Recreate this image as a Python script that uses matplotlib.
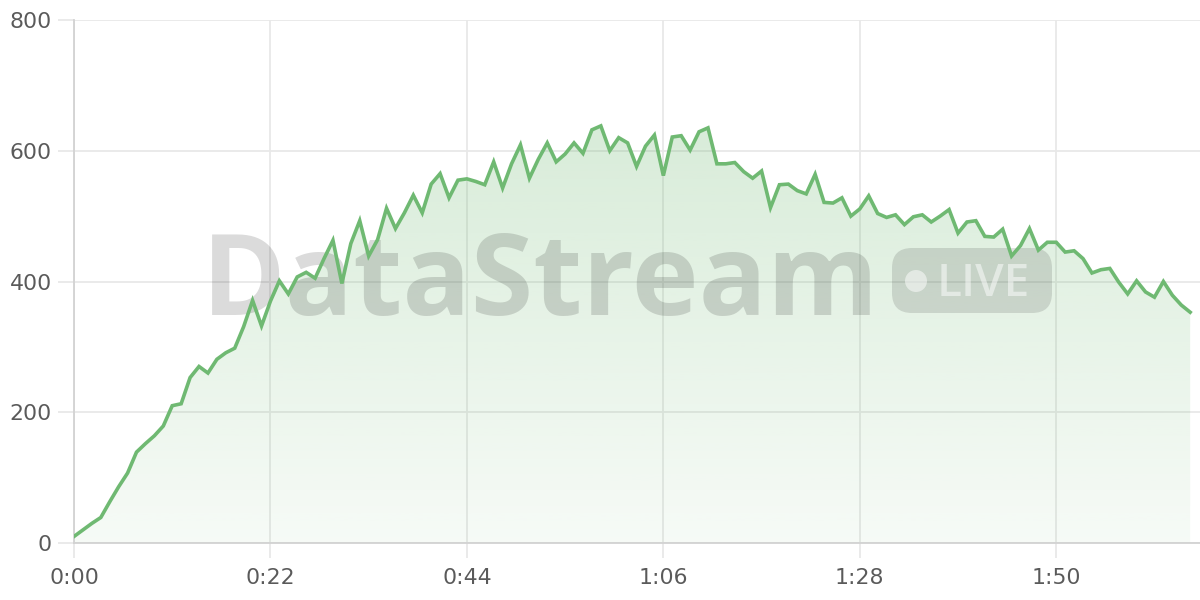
import numpy as np
import matplotlib
matplotlib.use('Agg')
from matplotlib import pyplot as plt
from matplotlib.patches import Polygon, FancyBboxPatch, Circle
from matplotlib.transforms import IdentityTransform
from matplotlib.ticker import FuncFormatter

# one reading per second, 0:00 .. 2:05
seconds = np.arange(126)
values = [10, 20, 30, 39, 63, 86, 107, 139, 152, 164,
          179, 210, 213, 253, 270, 260, 281, 291, 298, 331,
          371, 332, 370, 401, 381, 407, 414, 405, 435, 463,
          397, 458, 493, 439, 464, 512, 481, 505, 532, 505,
          549, 565, 528, 555, 557, 553, 548, 583, 543, 580,
          609, 558, 587, 612, 583, 595, 612, 596, 632, 638,
          600, 620, 612, 576, 607, 624, 562, 621, 623, 601,
          629, 635, 580, 580, 582, 568, 558, 569, 513, 548,
          549, 539, 534, 564, 521, 520, 528, 500, 511, 531,
          504, 498, 502, 487, 499, 502, 491, 500, 510, 474,
          491, 493, 469, 468, 480, 439, 455, 481, 448, 460,
          460, 445, 447, 435, 413, 418, 420, 399, 381, 401,
          384, 376, 400, 379, 364, 353]
x_ticks = [0, 22, 44, 66, 88, 110]
y_ticks = [0, 200, 400, 600, 800]

green = '#6fb972'
grid_col = '#e8e8e8'
axis_col = '#d2d2d2'
label_col = '#5a5a5a'

fig = plt.figure(figsize=(12, 6), dpi=100)
ax = fig.add_axes([74 / 1200, 57 / 600, 1126 / 1200, 523 / 600])

vals = np.array(values, dtype=float)

# gradient fill under the line
verts = np.column_stack([np.r_[seconds[0], seconds, seconds[-1]], np.r_[0, vals, 0]])
poly = Polygon(verts, closed=True, facecolor='none', edgecolor='none')
ax.add_patch(poly)
grad = np.zeros((256, 1, 4))
grad[:, :, :3] = matplotlib.colors.to_rgb(green)
grad[:, 0, 3] = np.linspace(0.27, 0.06, 256)
im = ax.imshow(grad, aspect='auto', origin='upper', zorder=1,
               extent=[seconds[0], seconds[-1], 0, vals.max()])
im.set_clip_path(poly)

ax.plot(seconds, vals, color=green, lw=2.6, zorder=4, solid_joinstyle='miter')

# watermark
ident = IdentityTransform()
ax.text(202, 285, 'DataStream', transform=ident, fontsize=81.5, fontweight='bold',
        family='Open Sans', color=(0, 0, 0, 0.14), va='baseline', ha='left', zorder=3)
badge = FancyBboxPatch((892, 287), 160, 65, boxstyle='round,pad=0,rounding_size=20',
                       transform=ident, facecolor=(0, 0, 0, 0.12), edgecolor='none',
                       zorder=3, clip_on=False)
ax.add_patch(badge)
ax.add_patch(Circle((916, 319), 11, transform=ident, facecolor=(1, 1, 1, 0.5),
                    edgecolor='none', zorder=3, clip_on=False))
ax.text(937, 304, 'LIVE', transform=ident, fontsize=33, fontweight='semibold',
        family='Open Sans', color=(1, 1, 1, 0.5), va='baseline', ha='left', zorder=3)

ax.set_xlim(0, 126.1)
ax.set_ylim(0, 800)
ax.set_xticks(x_ticks)
ax.set_yticks(y_ticks)
ax.xaxis.set_major_formatter(FuncFormatter(lambda v, p: '%d:%02d' % (v // 60, v % 60)))

ax.grid(True, color=grid_col, lw=1.3)
ax.set_axisbelow(True)
for s in ['top', 'right']:
    ax.spines[s].set_visible(False)
for s in ['left', 'bottom']:
    ax.spines[s].set_color(axis_col)
    ax.spines[s].set_linewidth(1.3)

ax.tick_params(axis='both', color=grid_col, width=1.3, labelcolor=label_col, labelsize=15.8)
ax.tick_params(axis='y', length=11.5, pad=4.5)
ax.tick_params(axis='x', length=11, pad=7)
for lab in ax.get_xticklabels() + ax.get_yticklabels():
    lab.set_family('DejaVu Sans')

fig.savefig('out.png', dpi=100)
